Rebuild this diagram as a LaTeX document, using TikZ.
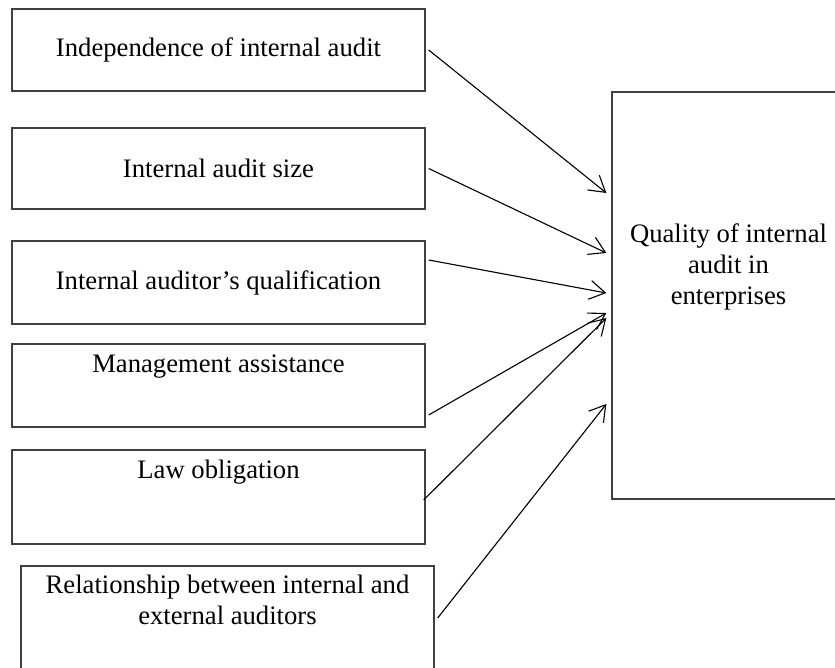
\documentclass[tikz,border=0pt]{standalone}
\usepackage{fontspec}
\setmainfont{Liberation Serif}
\usetikzlibrary{arrows.meta,calc}
\begin{document}
\begin{tikzpicture}[x=0.45pt,y=-0.45pt,
  box/.style={draw=black!75,line width=0.6pt,minimum width=185.85pt,inner sep=0pt},
  lbl/.style={font=\fontsize{12}{14}\selectfont,inner sep=0pt,align=center},
  link/.style={-{Straight Barb[length=7pt,width=8.5pt]},line width=0.5pt}]
\useasboundingbox (0,0) rectangle (835,668);
% factor boxes
\node[box,lbl,minimum height=36.9pt] (indep) at (218.5,50) {Independence of internal audit};
\node[box,lbl,minimum height=36.45pt] (size) at (218.5,168.5) {Internal audit size};
\node[box,lbl,minimum height=37.35pt] (qualif) at (218.5,282.5) {Internal auditor’s qualification};
\node[box,minimum height=37.35pt] (mgmt) at (218.5,385.5) {};
\node[box,minimum height=42.3pt] (law) at (218.5,497) {};
\node[box,minimum height=55.8pt] (relat) at (227.5,628) {};
% base of a multi-line label is its last line
\node[lbl,anchor=base] (mgmt-txt) at ($(mgmt.north)+(0,29)$) {Management assistance};
\node[lbl,anchor=base] (law-txt) at ($(law.north)+(0,29)$) {Law obligation};
\node[lbl,anchor=base] (relat-txt) at ($(relat.north)+(0,59)$) {Relationship between internal and\\external auditors};
% outcome box
\node[box,minimum width=104.85pt,minimum height=183.15pt] (quality) at (728.5,295.5) {};
\node[lbl,anchor=base] (quality-txt) at ($(quality.north)+(0,213)$) {Quality of internal\\audit in\\enterprises};
% links
\draw[link] ($(indep.east)+(3,0)$) -- ($(quality.west)+(-5,-102.5)$);
\draw[link] ($(size.east)+(3,0)$) -- ($(quality.west)+(-5,-42.5)$);
\draw[link] ($(qualif.east)+(3,-22.5)$) -- ($(quality.west)+(-5,-2.5)$);
\draw[link] ($(mgmt.east)+(3,29.5)$) -- ($(quality.west)+(-5,17.5)$);
\draw[link] ($(law.east)+(-2,3)$) -- ($(quality.west)+(-5,22.5)$);
\draw[link] ($(relat.east)+(3,-10)$) -- ($(quality.west)+(-5,108.5)$);
\end{tikzpicture}
\end{document}
